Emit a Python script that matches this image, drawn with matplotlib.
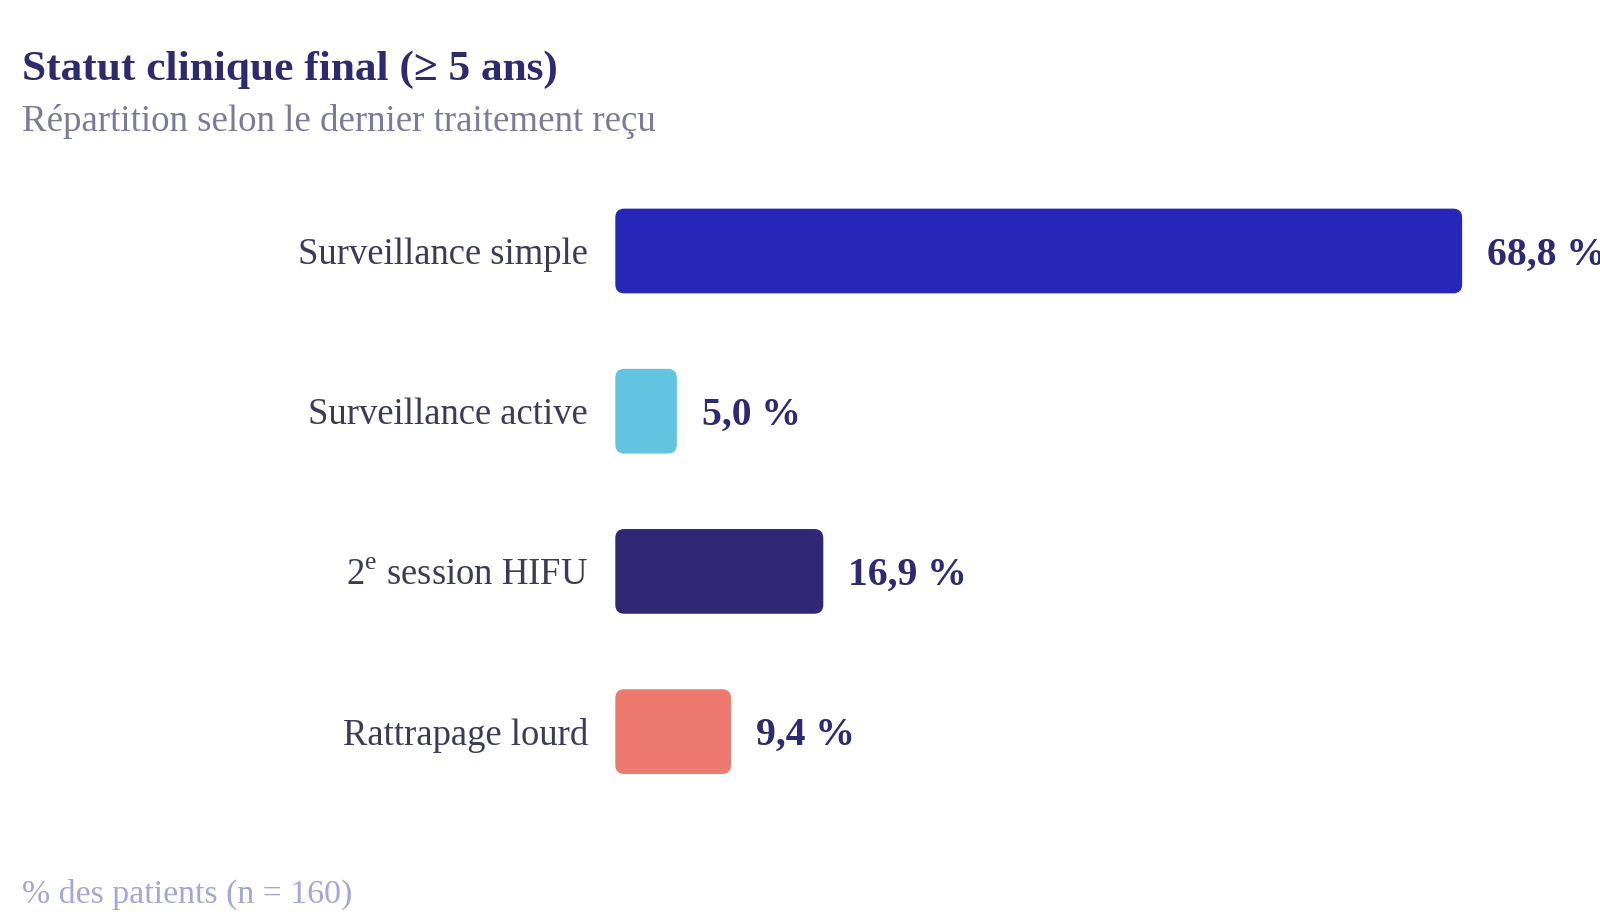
import matplotlib.pyplot as plt
from matplotlib.patches import FancyBboxPatch
from matplotlib.transforms import offset_copy

plt.rcParams['font.family'] = ['Liberation Serif', 'DejaVu Serif']
plt.rcParams['mathtext.fontset'] = 'custom'
plt.rcParams['mathtext.rm'] = 'Liberation Serif'

categories = ['Surveillance simple', 'Surveillance active',
              '2$^{\\rm e}$ session HIFU', 'Rattrapage lourd']
values = [68.8, 5.0, 16.9, 9.4]
value_labels = ['68,8 %', '5,0 %', '16,9 %', '9,4 %']
colors = ['#2626b9', '#62c4e1', '#302874', '#ee7a6f']

W, H = 1600, 923
fig = plt.figure(figsize=(W / 100, H / 100), dpi=100)
fig.patch.set_facecolor('white')

# axes placed in pixels: x=0 at 615 px, ~12.3 px per %
ax_left, ax_right = 615.3, 1600
ax_bottom, ax_top = 111.3, 752.1
ax = fig.add_axes([ax_left / W, ax_bottom / H,
                   (ax_right - ax_left) / W, (ax_top - ax_bottom) / H])
xmax = 80
ax.set_xlim(0, xmax)
ax.set_ylim(len(values) - 0.5, -0.5)

ypos = list(range(len(values)))
bars = ax.barh(ypos, values, height=0.529, color=colors)

px_x = (ax_right - ax_left) / xmax
px_y = (ax_top - ax_bottom) / len(values)
radius_px = 9
for b in bars:
    b.set_visible(False)
    fb = FancyBboxPatch((b.get_x(), b.get_y()), b.get_width(), b.get_height(),
                        boxstyle='round,pad=0,rounding_size=%f' % (radius_px / px_x),
                        mutation_aspect=px_x / px_y,
                        facecolor=b.get_facecolor(), edgecolor='none')
    ax.add_patch(fb)

# value labels sit slightly below the bar centre
lab_tr = offset_copy(ax.transData, fig=fig, x=0, y=-4, units='dots')
for y, v, lab in zip(ypos, values, value_labels):
    ax.text(v + 25 / px_x, y, lab, ha='left', va='center', fontsize=28.5,
            fontweight='bold', color='#2d2a74', clip_on=True,
            transform=lab_tr)

ax.set_yticks(ypos)
ax.set_yticklabels(categories, fontsize=26.4, color='#3b3b58')
ax.tick_params(axis='y', length=0, pad=19.5)
ax.set_xticks([])
for s in ax.spines.values():
    s.set_visible(False)

fig.text(22 / W, 1 - 80 / H, 'Statut clinique final (≥ 5 ans)', fontsize=31.2,
         fontweight='bold', color='#2d2a6e', ha='left', va='baseline')
fig.text(22 / W, 1 - 131 / H, 'Répartition selon le dernier traitement reçu',
         fontsize=26.6, color='#7a7b9b', ha='left', va='baseline')
fig.text(22 / W, 1 - 903 / H, '% des patients (n = 160)', fontsize=24.4,
         color='#a3a6d6', ha='left', va='baseline')

fig.savefig('out.png', dpi=100, facecolor='white')
